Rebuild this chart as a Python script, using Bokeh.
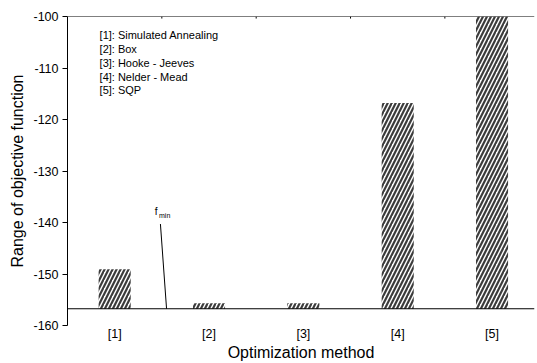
from bokeh.plotting import figure
from bokeh.models import FixedTicker, Span, ColumnDataSource
from bokeh.core.properties import value
from bokeh.embed import file_html
from bokeh.resources import INLINE

# Data
methods = [1, 2, 3, 4, 5]
method_labels = ["[1]", "[2]", "[3]", "[4]", "[5]"]
objective_top = [-149.1, -155.7, -155.7, -116.8, -100.0]
f_min = -156.75
legend_lines = [
    "[1]: Simulated Annealing",
    "[2]: Box",
    "[3]: Hooke - Jeeves",
    "[4]: Nelder - Mead",
    "[5]: SQP",
]
y_ticks = [-160, -150, -140, -130, -120, -110, -100]
y_tick_labels = ["-160", "-150", "-140", "-130", "-120", "-110", "-100"]
top_ticks = [1.5, 2.5, 3.5, 4.5]

FONT = "Liberation Sans"
Y_MIN, Y_MAX = -160, -100

p = figure(width=537, height=363, x_range=(0.5, 5.45), y_range=(Y_MIN, Y_MAX),
           output_backend="svg", toolbar_location=None,
           min_border_left=67, min_border_right=3, min_border_top=16,
           min_border_bottom=33)
p.outline_line_color = None
p.xgrid.visible = False
p.ygrid.visible = False
p.background_fill_color = "white"

# Bars rise from the minimum objective value
src = ColumnDataSource(dict(x=methods, top=objective_top,
                            bottom=[f_min] * len(methods)))
p.vbar(x="x", top="top", bottom="bottom", width=0.34, source=src,
       fill_color="white", line_color=None,
       hatch_pattern="/", hatch_color="#3c3c3c", hatch_scale=8,
       hatch_weight=2.2)

# Baseline at f_min and top border
p.add_layout(Span(location=f_min, dimension="width", line_color="black",
                  line_width=1))
p.add_layout(Span(location=Y_MAX, dimension="width", line_color="black",
                  line_width=1))
# small inward ticks on the top border between categories
p.segment(x0=top_ticks, x1=top_ticks, y0=[Y_MAX] * 4, y1=[Y_MAX - 0.4] * 4,
          line_color="black", line_width=1)

# f_min pointer
p.line(x=[1.485, 1.55], y=[-140.3, f_min], line_color="black", line_width=1)
p.text(x=[1.425], y=[-137.9], text=["f"], text_font=value(FONT),
       text_font_size="10px", text_baseline="middle", text_align="left",
       text_color="black")
p.text(x=[1.47], y=[-138.6], text=["min"], text_font=value(FONT),
       text_font_size="7px", text_baseline="middle", text_align="left",
       text_color="black")

# Method key
key_y = [-103.6, -106.3, -109.0, -111.7, -114.3]
p.text(x=[0.84] * len(legend_lines), y=key_y, text=legend_lines,
       text_font=value(FONT), text_font_size="11px", text_baseline="middle",
       text_align="left", text_color="black")

# Bottom axis: category labels only
xa = p.xaxis[0]
xa.ticker = FixedTicker(ticks=methods)
xa.major_label_overrides = {m: lab for m, lab in zip(methods, method_labels)}
xa.axis_line_color = None
xa.major_tick_line_color = None
xa.minor_tick_line_color = None
xa.major_tick_out = 0
xa.major_tick_in = 0
xa.major_label_standoff = 1
xa.major_label_text_font = FONT
xa.major_label_text_font_size = "12.5px"
xa.major_label_text_color = "black"
xa.axis_label = "Optimization method"
xa.axis_label_text_font = FONT
xa.axis_label_text_font_size = "16px"
xa.axis_label_text_font_style = "normal"
xa.axis_label_text_color = "black"
xa.axis_label_standoff = 0

# Left axis
ya = p.yaxis[0]
ya.ticker = FixedTicker(ticks=y_ticks)
ya.major_label_overrides = {t: lab for t, lab in zip(y_ticks, y_tick_labels)}
ya.minor_tick_line_color = None
ya.major_tick_out = 5
ya.major_tick_in = 0
ya.major_label_standoff = 4
ya.axis_line_color = "black"
ya.major_tick_line_color = "black"
ya.major_label_text_font = FONT
ya.major_label_text_font_size = "12.5px"
ya.major_label_text_color = "black"
ya.axis_label = "Range of objective function"
ya.axis_label_text_font = FONT
ya.axis_label_text_font_size = "16px"
ya.axis_label_text_font_style = "normal"
ya.axis_label_text_color = "black"
ya.axis_label_standoff = 4

open("out.html", "w").write(file_html(p, INLINE))
